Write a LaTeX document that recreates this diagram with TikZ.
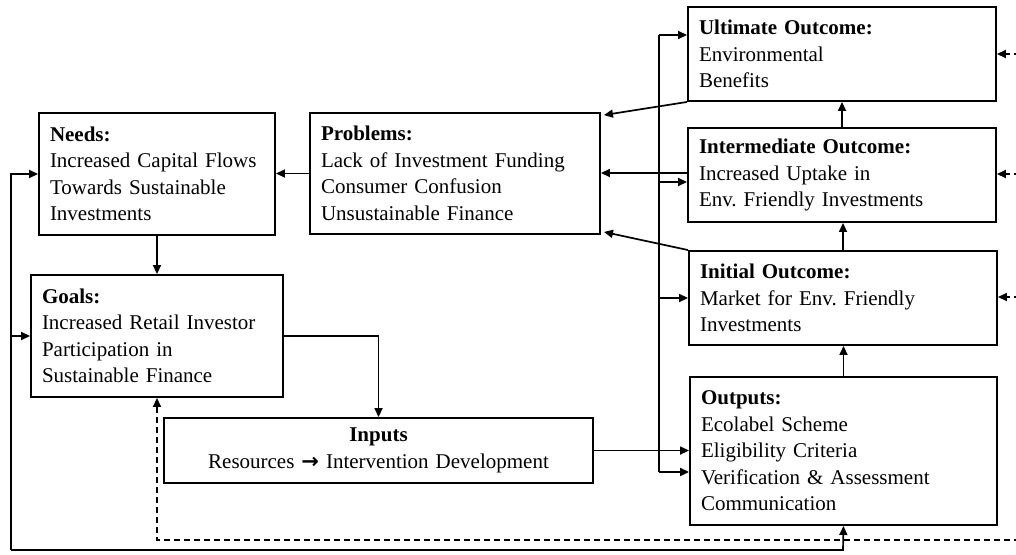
\documentclass[tikz,border=0pt]{standalone}
\usepackage{fontspec}
\setmainfont{Liberation Serif}
\newfontfamily\dejavu{DejaVu Sans}
\usetikzlibrary{arrows.meta,calc}
\tikzset{
  box/.style={draw, line width=1.9pt, inner xsep=11pt, inner ysep=0pt, align=left,
    font=\fontsize{21}{26.5}\selectfont\frenchspacing, anchor=center},
  tip/.style={-{Triangle[length=9pt,width=8pt]}},
  arr/.style={line width=1.7pt, tip},
  ln/.style={line width=1.7pt},
  dsh/.style={line width=1.7pt, dash pattern=on 6pt off 4pt}
}
\begin{document}
\begin{tikzpicture}[x=1pt,y=-1pt]
\useasboundingbox (0,0) rectangle (1016,554);
\clip (0,0) rectangle (1016,554);
\fill[white] (0,0) rectangle (1016,554);

\node[box, text width=214pt, minimum height=122pt] (needs) at (157,174)
  {\textbf{Needs:}\\Increased Capital Flows\\Towards Sustainable\\Investments};
\node[box, text width=230pt, minimum height=122pt] (goals) at (157,336)
  {\textbf{Goals:}\\Increased Retail Investor\\Participation in\\Sustainable Finance};
\node[box, text width=268pt, minimum height=121pt] (problems) at (455,173.5)
  {\textbf{Problems:}\\Lack of Investment Funding\\Consumer Confusion\\Unsustainable Finance};
\node[box, align=center, text width=407pt, minimum height=65pt] (inputs) at (378.5,450.5)
  {\textbf{Inputs}\\Resources {\dejavu\bfseries\fontsize{21}{24}\selectfont →} Intervention Development};
\node[box, text width=286pt, minimum height=94pt] (ultimate) at (842,54)
  {\textbf{Ultimate Outcome:}\\Environmental\\Benefits};
\node[box, text width=286pt, minimum height=94pt] (intermediate) at (842,175)
  {\textbf{Intermediate Outcome:}\\Increased Uptake in\\Env. Friendly Investments};
\node[box, text width=286pt, minimum height=94pt] (initial) at (843,298)
  {\textbf{Initial Outcome:}\\Market for Env. Friendly\\Investments};
\node[box, text width=285pt, minimum height=148pt] (outputs) at (843.5,451)
  {\textbf{Outputs:}\\Ecolabel Scheme\\Eligibility Criteria\\Verification \& Assessment\\Communication};

% left-side flows
\draw[arr] (problems.west) -- (problems.west -| needs.east);
\draw[arr] (needs.south) -- (needs.south |- goals.north);
\draw[arr] (goals.east) -| (inputs.north);
\draw[arr] (inputs.east) -- (inputs.east -| outputs.west);

% bus to outcomes
\coordinate (busT) at (659,35);
\coordinate (busB) at (659,472);
\draw[ln] (busT) -- (busB);
\draw[arr] (busT) -- (busT -| ultimate.west);
\draw[arr] (busB) -- (busB -| outputs.west);
\draw[arr] ([yshift=-7pt]intermediate.west -| busT) -- ([yshift=-7pt]intermediate.west);
\draw[arr] (initial.west -| busT) -- (initial.west);

% feedback to problems
\draw[arr] ([yshift=2pt]intermediate.west) -- ([yshift=2pt]intermediate.west -| problems.east);
\draw[arr] (ultimate.south west) -- ([shift={(3pt,-3pt)}]problems.north east);
\draw[arr] (initial.north west) -- ([shift={(3pt,3pt)}]problems.south east);

% vertical chain
\draw[arr] (outputs.north) -- (outputs.north |- initial.south);
\draw[arr] (initial.north) -- (initial.north |- intermediate.south);
\draw[arr] (intermediate.north) -- (intermediate.north |- ultimate.south);

% bottom solid loop
\coordinate (bR) at (843,550);
\coordinate (bL) at (11,550);
\draw[arr] (bL) -- (bR) -- (outputs.south);
\draw[arr] (bL) |- (needs.west);
\draw[arr] (bL |- goals.west) -- (goals.west);

% dashed feedback
\coordinate (dL) at (157,540);
\coordinate (dR) at (1030,540);
\draw[dsh, tip] (dR) -- (dL) -- (goals.south);
\draw[dsh] (dR) -- (1030,54);
\draw[dsh, tip] (1030,54) -- (ultimate.east);
\draw[dsh, tip] (1030,174) -- (1030,174 -| intermediate.east);
\draw[dsh, tip] (1030,297) -- (1030,297 -| initial.east);
\end{tikzpicture}
\end{document}
